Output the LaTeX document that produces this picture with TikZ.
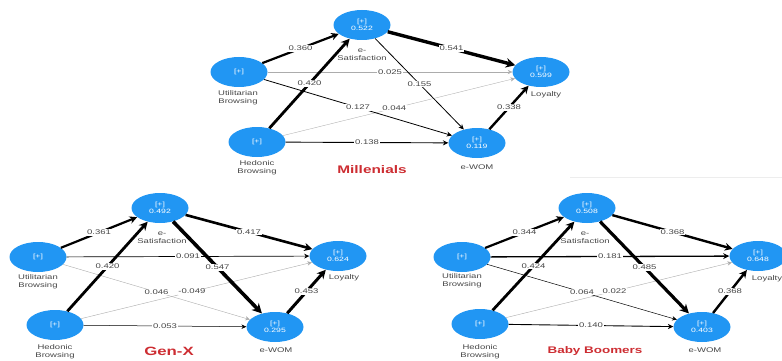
\documentclass[tikz,border=0pt]{standalone}
\usepackage{fontspec}
\setmainfont[FakeStretch=1.4]{Liberation Sans}
\usetikzlibrary{arrows.meta,shapes.geometric}
\definecolor{nodeblue}{RGB}{33,150,243}
\definecolor{titlered}{RGB}{205,45,50}
\definecolor{txt}{RGB}{70,70,70}
\tikzset{
  nd/.style={ellipse, fill=nodeblue, draw=none, minimum width=57pt, minimum height=30pt,
    inner sep=0pt, align=center, text=white, font=\fontsize{6.2}{7.4}\selectfont},
  lb/.style={align=center, text=txt, font=\fontsize{6.8}{7.8}\selectfont, inner sep=0pt},
  el/.style={fill=white, inner sep=0.6pt, text=txt, font=\fontsize{6.8}{7.4}\selectfont},
  ed/.style={line width=#1, -{Stealth[length=4pt 1.6, width=3.5pt 1.8]}},
  faint/.style={draw=gray!65},
  tt/.style={text=titlered, inner sep=0pt}
}
\begin{document}
\begin{tikzpicture}[x=1pt,y=-1pt]
\useasboundingbox (0,0) rectangle (782,361);
\draw[black!7, line width=0.6pt] (570,177) -- (782,177);

% ---------------- Millenials (top) ----------------
\node[nd] (tS) at (362,25) {[+]\\0.522};
\node[nd] (tU) at (239,72) {[+]};
\node[nd] (tL) at (541,72) {[+]\\0.599};
\node[nd] (tH) at (257,142) {[+]};
\node[nd] (tW) at (477,143) {[+]\\0.119};
\node[lb] (tSl) at (362,55) {e-\\Satisfaction};
\node[lb] (tUl) at (238,98) {Utilitarian\\Browsing};
\node[lb] (tLl) at (546,95) {Loyalty};
\node[lb] (tHl) at (257,168) {Hedonic\\Browsing};
\node[lb] (tWl) at (477,167) {e-WOM};
\node[tt] (tT) at (372,170) {\fontsize{11}{12}\selectfont\bfseries Millenials};
\draw[ed=0.35, faint] (tU) -- node[el]{0.025} (tL);
\draw[ed=0.35, faint] (tH) -- node[el, pos=0.48]{0.044} (tL);
\draw[ed=0.8] (tU) -- node[el, pos=0.5]{0.127} (tW);
\draw[ed=0.8] (tS) -- node[el]{0.155} (tW);
\draw[ed=0.9] (tH) -- node[el]{0.138} (tW);
\draw[ed=2.2] (tU) -- node[el]{0.360} (tS);
\draw[ed=2.8] (tH) -- node[el]{0.420} (tS);
\draw[ed=3.4] (tS) -- node[el]{0.541} (tL);
\draw[ed=2.4] (tW) -- node[el]{0.338} (tL);

% ---------------- Gen-X (bottom left) ----------------
\node[nd] (gS) at (160,208) {[+]\\0.492};
\node[nd] (gU) at (38,257) {[+]};
\node[nd] (gL) at (338,256) {[+]\\0.624};
\node[nd] (gH) at (55,325) {[+]};
\node[nd] (gW) at (275,327) {[+]\\0.295};
\node[lb] (gSl) at (162,238) {e-\\Satisfaction};
\node[lb] (gUl) at (38,282) {Utilitarian\\Browsing};
\node[lb] (gLl) at (344,278) {Loyalty};
\node[lb] (gHl) at (55,352) {Hedonic\\Browsing};
\node[lb] (gWl) at (276,350) {e-WOM};
\node[tt] (gT) at (169,351) {\fontsize{12}{13}\selectfont\bfseries Gen-X};
\draw[ed=0.7] (gU) -- node[el]{0.091} (gL);
\draw[ed=0.4, faint] (gH) -- node[el, pos=0.48]{-0.049} (gL);
\draw[ed=0.4, faint] (gU) -- node[el]{0.046} (gW);
\draw[ed=0.5] (gH) -- node[el]{0.053} (gW);
\draw[ed=2.2] (gU) -- node[el]{0.361} (gS);
\draw[ed=2.8] (gH) -- node[el]{0.420} (gS);
\draw[ed=2.6] (gS) -- node[el]{0.417} (gL);
\draw[ed=3.6] (gS) -- node[el]{0.547} (gW);
\draw[ed=3.0] (gW) -- node[el]{0.453} (gL);

% ---------------- Baby Boomers (bottom right) ----------------
\node[nd] (bS) at (587,208) {[+]\\0.508};
\node[nd] (bU) at (462,257) {[+]};
\node[nd] (bL) at (758,256) {[+]\\0.648};
\node[nd] (bH) at (480,324) {[+]};
\node[nd] (bW) at (702,327) {[+]\\0.403};
\node[lb] (bSl) at (585,238) {e-\\Satisfaction};
\node[lb] (bUl) at (462,281) {Utilitarian\\Browsing};
\node[lb] (bLl) at (767,279) {Loyalty};
\node[lb] (bHl) at (480,352) {Hedonic\\Browsing};
\node[lb] (bWl) at (705,350) {e-WOM};
\node[tt] (bT) at (595,351) {\fontsize{9.6}{11}\selectfont\bfseries Baby Boomers};
\draw[ed=1.3] (bU) -- node[el]{0.181} (bL);
\draw[ed=0.4, faint] (bH) -- node[el, pos=0.48]{0.022} (bL);
\draw[ed=0.5] (bU) -- node[el]{0.064} (bW);
\draw[ed=0.9] (bH) -- node[el]{0.140} (bW);
\draw[ed=2.2] (bU) -- node[el]{0.344} (bS);
\draw[ed=2.8] (bH) -- node[el]{0.424} (bS);
\draw[ed=2.4] (bS) -- node[el]{0.368} (bL);
\draw[ed=3.2] (bS) -- node[el]{0.485} (bW);
\draw[ed=2.4] (bW) -- node[el]{0.368} (bL);
\end{tikzpicture}
\end{document}
